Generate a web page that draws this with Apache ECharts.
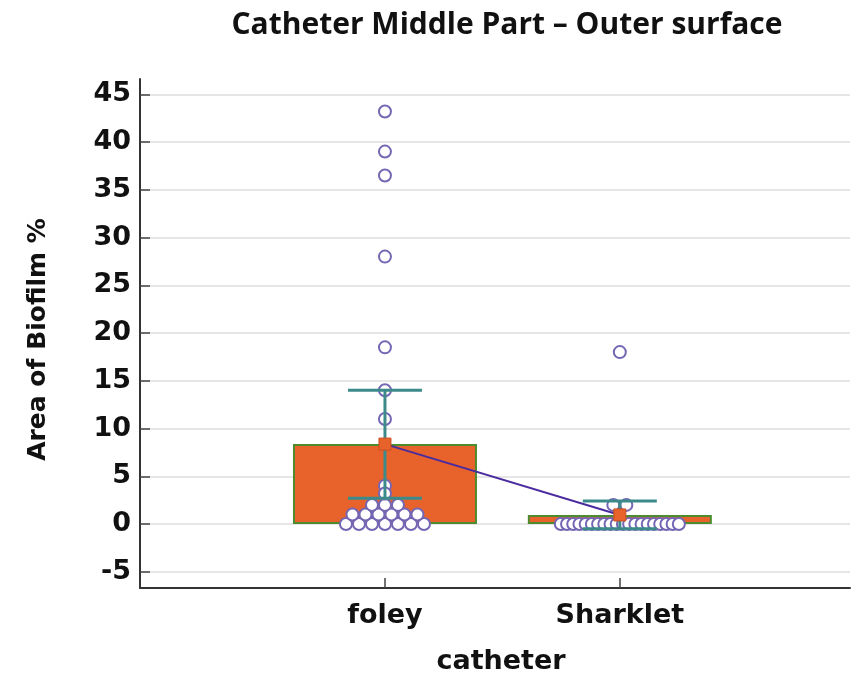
<!DOCTYPE html>
<html><head><meta charset="utf-8">
<script src="https://cdn.jsdelivr.net/npm/echarts@6/dist/echarts.min.js"></script>
<style>html,body{margin:0;padding:0;background:#fff}#c{width:866px;height:678px}</style>
</head><body><div id="c"></div>
<script>
// ---- data ----
const categories = ['foley', 'Sharklet'];
const yTicks = [-5, 0, 5, 10, 15, 20, 25, 30, 35, 40, 45];
const means = [8.37, 0.95];
const ciLow = [2.7, -0.5];
const ciHigh = [14.0, 2.4];
const foleyValues = [0, 0, 0, 0, 0, 0, 0, 1, 1, 1, 1, 1, 1, 2, 2, 2, 3.2, 4.0, 11.0, 14.0, 18.5, 28.0, 36.5, 39.0, 43.2];
const sharkletValues = [0, 0, 0, 0, 0, 0, 0, 0, 0, 0, 0, 0, 0, 0, 0, 0, 0, 0, 0, 0, 2, 2, 18.0];

// ---- beeswarm grouping (equal values side by side) ----
function swarm(values, xPos) {
  const groups = {};
  values.forEach(v => { (groups[v] = groups[v] || []).push(v); });
  const out = [];
  Object.keys(groups).forEach(k => {
    const g = groups[k];
    g.forEach((v, i) => out.push([xPos, v, i, g.length]));
  });
  return out;
}
const dotData = swarm(foleyValues, 1).concat(swarm(sharkletValues, 2));
const catPos = categories.map((c, i) => i + 1);

const FONT = 'DejaVu Sans, sans-serif';
const chart = echarts.init(document.getElementById('c'), null, {renderer: 'canvas'});
chart.setOption({
  animation: false,
  backgroundColor: '#fff',
  title: {
    text: 'Catheter Middle Part \u2013 Outer surface',
    left: 502, top: 5, textAlign: 'center',
    textStyle: {fontFamily: 'Open Sans, sans-serif', fontWeight: 'bold', fontSize: 30, color: '#111'}
  },
  grid: {left: 140, right: 16, top: 79, bottom: 90, outerBoundsMode: 'none', containLabel: false},
  xAxis: {
    type: 'value', min: -0.043, max: 2.98,
    name: 'catheter', nameLocation: 'middle', nameGap: 60,
    nameTextStyle: {fontFamily: FONT, fontWeight: 'bold', fontSize: 27, color: '#111', padding: [0, 0, 0, 12]},
    axisLine: {show: true, onZero: false, lineStyle: {color: '#333', width: 2}},
    axisTick: {show: true, inside: true, length: 10, customValues: catPos, lineStyle: {color: '#444', width: 1.5}},
    axisLabel: {customValues: catPos, margin: 14, formatter: v => categories[Math.round(v) - 1] || '',
      fontFamily: FONT, fontWeight: 'bold', fontSize: 27, color: '#111'},
    splitLine: {show: false}
  },
  yAxis: {
    type: 'value', min: -6.7, max: 46.6,
    name: 'Area of Biofilm %', nameLocation: 'middle', nameGap: 89,
    nameTextStyle: {fontFamily: FONT, fontWeight: 'bold', fontSize: 25, color: '#111', padding: [0, 12, 0, 0]},
    axisLine: {show: true, onZero: false, lineStyle: {color: '#333', width: 2}},
    axisTick: {show: true, inside: true, length: 10, customValues: yTicks, lineStyle: {color: '#444', width: 1.5}},
    axisLabel: {customValues: yTicks, margin: 9, fontFamily: FONT, fontWeight: 'bold', fontSize: 27, color: '#111'},
    splitLine: {show: true, lineStyle: {color: '#dedede', width: 1.5}}
  },
  series: [
    {
      type: 'bar', barWidth: 184,
      data: catPos.map((x, i) => [x, means[i]]),
      itemStyle: {color: '#E8632B', borderColor: '#4E8B2E', borderWidth: 2},
      z: 1
    },
    {
      type: 'custom', z: 2,
      data: dotData,
      renderItem: function (params, api) {
        const p = api.coord([api.value(0), api.value(1)]);
        const i = api.value(2), n = api.value(3);
        const sp = n > 1 ? Math.min(13, 118 / (n - 1)) : 0;
        return {type: 'circle', shape: {cx: p[0] + (i - (n - 1) / 2) * sp, cy: p[1], r: 6},
          style: {fill: '#fff', stroke: '#7566B3', lineWidth: 2}};
      }
    },
    {
      type: 'custom', z: 3,
      data: catPos.map((x, i) => [x, ciLow[i], ciHigh[i]]),
      renderItem: function (params, api) {
        const lo = api.coord([api.value(0), api.value(1)]);
        const hi = api.coord([api.value(0), api.value(2)]);
        const w = 37;
        const st = {stroke: '#3D8A8A', lineWidth: 3};
        return {type: 'group', children: [
          {type: 'line', shape: {x1: lo[0], y1: lo[1], x2: hi[0], y2: hi[1]}, style: st},
          {type: 'line', shape: {x1: lo[0] - w, y1: lo[1], x2: lo[0] + w, y2: lo[1]}, style: st},
          {type: 'line', shape: {x1: hi[0] - w, y1: hi[1], x2: hi[0] + w, y2: hi[1]}, style: st}
        ]};
      }
    },
    {
      type: 'line', z: 4,
      data: catPos.map((x, i) => [x, means[i]]),
      symbol: 'rect', symbolSize: 12,
      lineStyle: {color: '#4B2C9F', width: 2},
      itemStyle: {color: '#E8632B', borderColor: '#C9501F', borderWidth: 1}
    }
  ]
});
</script>
</body></html>
